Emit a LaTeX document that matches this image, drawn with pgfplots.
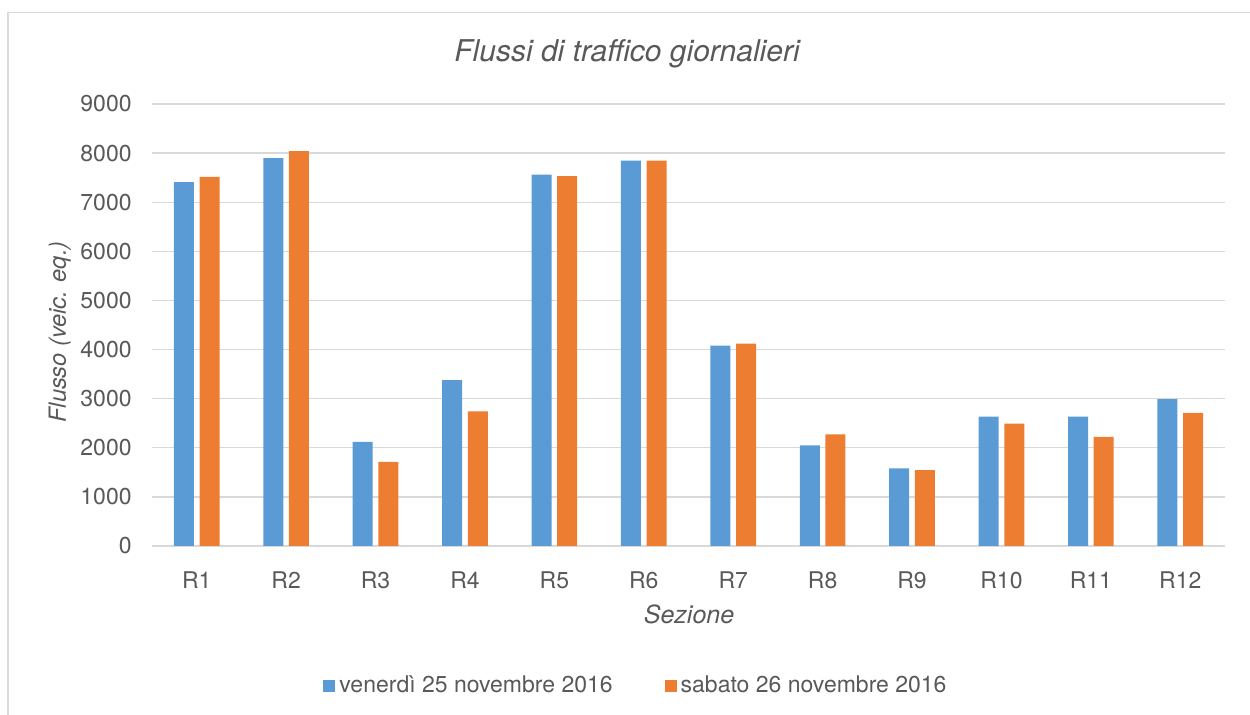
\documentclass[border=0pt]{standalone}
\usepackage{fontspec}
\setmainfont{TeX Gyre Heros}
\usepackage{pgfplots}
\pgfplotsset{compat=1.18}
\definecolor{cblue}{HTML}{5B9BD5}
\definecolor{corange}{HTML}{ED7D31}
\definecolor{cgrid}{HTML}{D9D9D9}
\definecolor{ctext}{HTML}{595959}

\begin{document}
\begin{tikzpicture}
\path[use as bounding box] (0,0) rectangle (625pt,-357.5pt);
\draw[cgrid, line width=0.75pt] (4pt,-357.5pt) -- (4pt,-6.25pt) -- (625pt,-6.25pt);
\begin{axis}[
  at={(76pt,-52pt)}, anchor=north west,
  scale only axis, width=536.5pt, height=221pt,
  ybar=2.8pt, bar width=10pt,
  xmin=-0.5, xmax=11.5, ymin=0, ymax=9000,
  xtick={0,1,2,3,4,5,6,7,8,9,10,11},
  xticklabels={R1,R2,R3,R4,R5,R6,R7,R8,R9,R10,R11,R12},
  ytick={0,1000,2000,3000,4000,5000,6000,7000,8000,9000},
  scaled y ticks=false,
  ymajorgrids, grid style={cgrid, line width=0.65pt},
  axis x line*=bottom, axis y line*=left,
  x axis line style={cgrid, line width=0.8pt, -},
  y axis line style={draw=none},
  major tick length=0pt,
  tick label style={font=\fontsize{11.5}{13}\selectfont, text=ctext, /pgf/number format/assume math mode=true},
  yticklabel style={/pgf/number format/1000 sep={}, anchor=east, inner sep=0pt, xshift=-10pt},
  xticklabel style={anchor=base, yshift=-21.5pt},
  title={Flussi di traffico giornalieri},
  title style={at={(axis description cs:0.4427,1.086)}, anchor=center, font=\fontsize{15}{18}\selectfont\itshape, text=ctext},
  xlabel={Sezione},
  xlabel style={at={(axis description cs:0.5005,-0.154)}, anchor=center, font=\fontsize{12.5}{15}\selectfont\itshape, text=ctext},
  ylabel={Flusso (veic. eq.)},
  ylabel style={at={(axis description cs:-0.086,0.484)}, anchor=center, font=\fontsize{11.8}{14}\selectfont\itshape, text=ctext},
  legend style={at={(axis description cs:0.452,-0.3167)}, anchor=center, draw=none, legend columns=2,
    font=\fontsize{11.5}{13}\selectfont, text=ctext,
    /tikz/every even column/.append style={column sep=24pt}},
  legend image code/.code={\fill[#1] (0pt,-3pt) rectangle (6pt,3pt);},
  legend cell align=left,
]
\addplot[fill=cblue, draw=none] coordinates {(0,7410) (1,7896) (2,2118) (3,3375) (4,7564) (5,7849) (6,4081) (7,2051) (8,1582) (9,2635) (10,2635) (11,2988)};
\addplot[fill=corange, draw=none] coordinates {(0,7515) (1,8039) (2,1711) (3,2743) (4,7530) (5,7849) (6,4122) (7,2275) (8,1542) (9,2493) (10,2220) (11,2709)};
\legend{venerdì 25 novembre 2016, sabato 26 novembre 2016}
\end{axis}
\end{tikzpicture}
\end{document}
